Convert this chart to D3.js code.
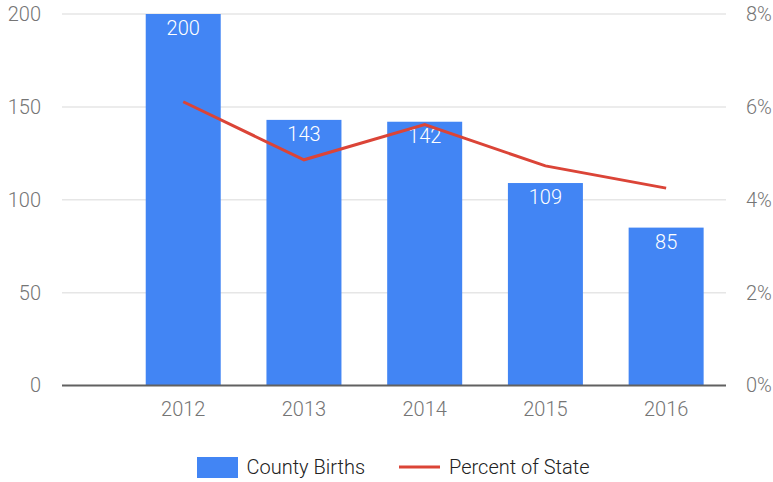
<!DOCTYPE html>
<html>
<head>
<meta charset="utf-8">
<script src="https://cdn.jsdelivr.net/npm/d3@7"></script>
<style>
  body{margin:0;background:#fff;}
  text{font-family:Roboto,"Noto Sans",sans-serif;font-weight:300;}
</style>
</head>
<body>
<div id="chart"></div>
<script>
// chart data
const years=[2012,2013,2014,2015,2016]
const births=[200,143,142,109,85]
const percentOfState=[6.11,4.86,5.62,4.73,4.25]
const leftTicks=[0,50,100,150,200]
const rightTicks=[0,2,4,6,8]

const width=773, height=482
const plotLeft=62, plotRight=726, plotTop=14, plotBottom=385.5
const blue="#4285f4", red="#db4437"
const fs=20

const svg=d3.select("#chart").append("svg").attr("width",width).attr("height",height)

let x=d3.scaleLinear().domain([2011,2016.5]).range([plotLeft,plotRight])
let y=d3.scaleLinear().domain([0,200]).range([plotBottom,plotTop])
let y2=d3.scaleLinear().domain([0,8]).range([plotBottom,plotTop])
let barW=75

//gridlines
svg.append("g").selectAll("line").data(leftTicks.filter(d=>d>0)).enter().append("line")
  .attr("x1",plotLeft).attr("x2",plotRight).attr("y1",d=>y(d)).attr("y2",d=>y(d))
  .attr("stroke","#e6e6e6").attr("stroke-width",1.5)

//left axis
let yAxis=d3.axisLeft(y).tickValues(leftTicks).tickSize(0).tickPadding(21)
let gy=svg.append("g").attr("transform",`translate(${plotLeft},0)`).call(yAxis)
gy.select(".domain").remove()
gy.selectAll("text").attr("font-size",fs).attr("fill","#757575").attr("font-family","Roboto")

//right axis
let y2Axis=d3.axisRight(y2).tickValues(rightTicks).tickSize(0).tickPadding(20).tickFormat(d=>d+"%")
let gy2=svg.append("g").attr("transform",`translate(${plotRight},0)`).call(y2Axis)
gy2.select(".domain").remove()
gy2.selectAll("text").attr("font-size",fs).attr("fill","#757575").attr("font-family","Roboto")

//bars
svg.append("g").selectAll("rect").data(years).enter().append("rect")
  .attr("x",(d)=>x(d)-barW/2+0.5).attr("width",barW)
  .attr("y",(d,i)=>y(births[i])).attr("height",(d,i)=>plotBottom-y(births[i]))
  .attr("fill",blue)

//baseline + x labels
svg.append("line").attr("x1",plotLeft).attr("x2",plotRight).attr("y1",plotBottom).attr("y2",plotBottom)
  .attr("stroke","#616161").attr("stroke-width",2)
let xAxis=d3.axisBottom(x).tickValues(years).tickFormat(d3.format("d")).tickSize(0).tickPadding(16)
let gx=svg.append("g").attr("transform",`translate(0,${plotBottom})`).call(xAxis)
gx.select(".domain").remove()
gx.selectAll("text").attr("font-size",fs).attr("fill","#757575").attr("font-family","Roboto")

//bar labels
svg.append("g").selectAll("text").data(years).enter().append("text")
  .attr("x",d=>x(d)+0.5).attr("y",(d,i)=>y(births[i])+21)
  .attr("text-anchor","middle").attr("font-size",fs).attr("fill","#fff")
  .text((d,i)=>births[i])

//percent line
let line=d3.line().x((d,i)=>x(years[i])+0.5).y(d=>y2(d))
svg.append("path").datum(percentOfState).attr("d",line)
  .attr("fill","none").attr("stroke",red).attr("stroke-width",3)

//legend
let legend=svg.append("g")
legend.append("rect").attr("x",197).attr("y",457).attr("width",41).attr("height",21).attr("fill",blue)
legend.append("text").attr("x",246.5).attr("y",474).attr("font-size",fs).attr("fill","#222").text("County Births")
legend.append("line").attr("x1",399).attr("x2",440).attr("y1",467).attr("y2",467).attr("stroke",red).attr("stroke-width",3)
legend.append("text").attr("x",449).attr("y",474).attr("font-size",fs).attr("fill","#222").text("Percent of State")
</script>
</body>
</html>
